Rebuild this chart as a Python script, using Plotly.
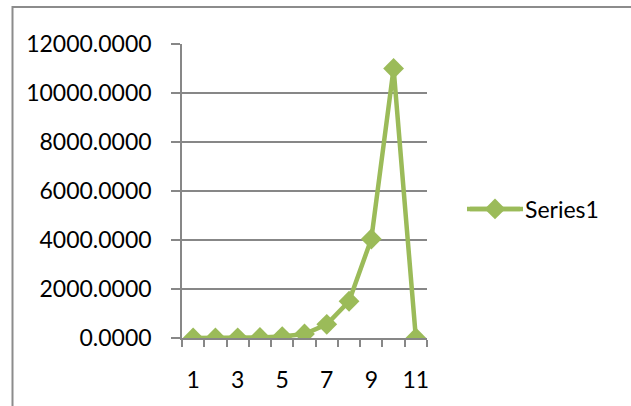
import plotly.graph_objects as go

# Series values per category (1..11)
categories = [1, 2, 3, 4, 5, 6, 7, 8, 9, 10, 11]
series1 = [0, 2, 8, 22, 60, 165, 560, 1500, 4040, 11000, 0]
y_ticks = [0, 2000, 4000, 6000, 8000, 10000, 12000]
x_ticks = [1, 3, 5, 7, 9, 11]

W, H = 631, 406
L, R, T, B = 182, 427, 44, 338  # plot area edges in pixels

def px_x(p):
    return (p - L) / (R - L)

def px_y(p):
    return (B - p) / (B - T)

FONT = "Lato"
FSIZE = 23
GREEN = "#9BBB59"
GRID = "#878787"
LEG_Y = 209

fig = go.Figure()
fig.add_trace(go.Scatter(
    x=categories, y=series1, name="Series1",
    mode="lines+markers",
    line=dict(color=GREEN, width=4.5),
    marker=dict(symbol="diamond", size=16, color=GREEN),
))

fig.update_layout(
    width=W, height=H,
    margin=dict(l=L, r=W - R, t=T, b=H - B),
    paper_bgcolor="white", plot_bgcolor="white",
    font=dict(family=FONT, size=FSIZE, color="black"),
    showlegend=True,
    legend=dict(x=px_x(465), y=px_y(LEG_Y), xanchor="left", yanchor="middle",
                itemwidth=50,
                font=dict(family=FONT, size=FSIZE, color="black"),
                bgcolor="rgba(0,0,0,0)"),
    xaxis=dict(
        range=[0.5, 11.5], tickmode="array", tickvals=x_ticks,
        ticktext=[str(v) for v in x_ticks],
        ticks="", showgrid=False, zeroline=False,
        showline=True, linecolor=GRID, linewidth=1.5,
        ticklabelstandoff=21,
        minor=dict(tick0=0.5, dtick=1, ticks="outside", ticklen=7,
                   tickcolor=GRID, tickwidth=1.5, showgrid=False),
    ),
    yaxis=dict(
        range=[0, 12000], tickmode="array", tickvals=y_ticks,
        ticktext=[f"{v:.4f}" for v in y_ticks],
        ticks="outside", ticklen=9, tickcolor=GRID, tickwidth=1.5,
        showgrid=True, gridcolor=GRID, gridwidth=1.5, zeroline=False,
        showline=True, linecolor=GRID, linewidth=1.5,
        ticklabelstandoff=15,
    ),
    shapes=[
        # outer chart frame
        dict(type="rect", xref="paper", yref="paper",
             x0=px_x(12.5), x1=px_x(660), y0=px_y(430), y1=px_y(7),
             line=dict(color="#8c8c8c", width=2), fillcolor="rgba(0,0,0,0)",
             layer="below"),
        # wider legend key line
        dict(type="line", xref="paper", yref="paper",
             x0=px_x(467), x1=px_x(523), y0=px_y(LEG_Y), y1=px_y(LEG_Y),
             line=dict(color=GREEN, width=4.5), layer="below"),
    ],
)

fig.write_html("out.html")
